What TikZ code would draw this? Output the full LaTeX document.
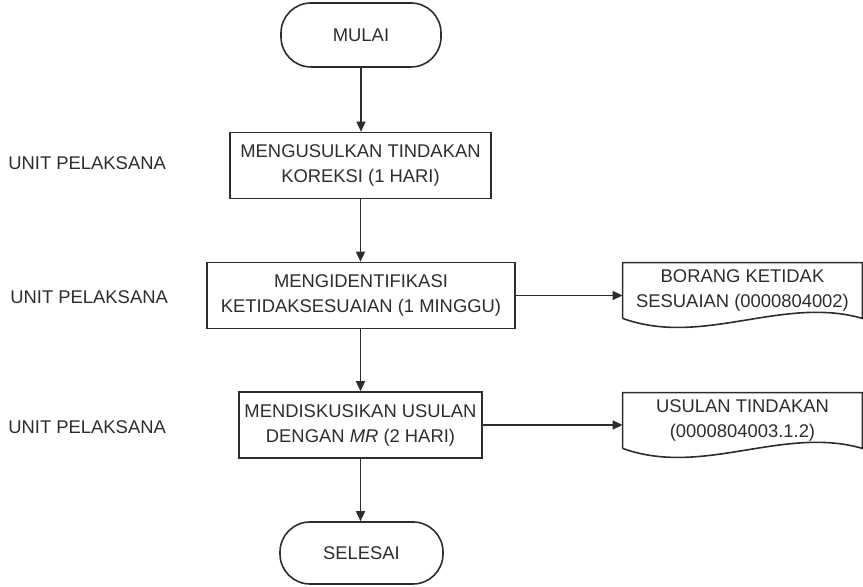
\documentclass[tikz,border=0pt]{standalone}
\usepackage{fontspec}
\setmainfont{Liberation Sans}
\usetikzlibrary{arrows.meta}
\usetikzlibrary{calc}
\definecolor{ink}{RGB}{45,45,45}

\begin{document}
\begin{tikzpicture}[x=0.5pt, y=0.5pt,
 every text node part/.style={align=center},
 every node/.style={font=\fontsize{9.2}{12.5}\selectfont, text=ink},
terminal/.style={rectangle, draw=ink, line width=0.8pt, inner sep=0pt, minimum width=80pt, minimum height=32pt, rounded corners=15pt},
process/.style={rectangle, draw=ink, line width=0.8pt, inner sep=0pt, minimum height=33pt},
form/.style={rectangle, inner sep=0pt, minimum width=119.5pt, minimum height=27.5pt},
unit/.style={anchor=west, inner sep=0pt},
arrow/.style={-{Triangle[length=5pt, width=4.5pt]}, line width=0.8pt, draw=ink}]

	\useasboundingbox (0,0) rectangle (863,587);

	\node[terminal] (mulai) at (361,552) {MULAI};
	\node[process, minimum width=130.5pt] (usul) at (360.5,421.5) {MENGUSULKAN TINDAKAN\\ KOREKSI (1 HARI)};
	\node[process, minimum width=154pt] (identifikasi) at (361,291.5) {MENGIDENTIFIKASI\\ KETIDAKSESUAIAN (1 MINGGU)};
	\node[process, minimum width=121.5pt] (diskusi) at (360.5,162) {MENDISKUSIKAN USULAN\\ DENGAN \textit{MR} (2 HARI)};
	\node[terminal, minimum width=81.5pt, minimum height=31pt] (selesai) at (361.5,34) {SELESAI};

	\node[form] (borangA) at (742.5,296.5) {BORANG KETIDAK\\ SESUAIAN (0000804002)};
	\node[form] (borangB) at (742.5,166.5) {USULAN TINDAKAN\\ (0000804003.1.2)};

	\node[unit] (unitA) at (8,424) {UNIT PELAKSANA};
	\node[unit] (unitB) at (10,290) {UNIT PELAKSANA};
	\node[unit] (unitC) at (8,160) {UNIT PELAKSANA};

	% document outlines
	\draw[ink, line width=0.8pt] (borangA.south west) -- (borangA.north west) -- (borangA.north east) -- (borangA.south east) .. controls +(-80,23) and +(80,-29) .. (borangA.south west);
	\draw[ink, line width=0.8pt] (borangB.south west) -- (borangB.north west) -- (borangB.north east) -- (borangB.south east) .. controls +(-80,23) and +(80,-29) .. (borangB.south west);

	\draw (mulai.south) edge [arrow] (mulai.south |- usul.north);
	\draw (usul.south) edge [arrow] (usul.south |- identifikasi.north);
	\draw (usul.south |- identifikasi.south) edge [arrow] (usul.south |- diskusi.north);
	\draw (usul.south |- diskusi.south) edge [arrow] (usul.south |- selesai.north);
	\draw (identifikasi.east) edge [arrow] (identifikasi.east -| borangA.west);
	\draw (diskusi.east) edge [arrow] (diskusi.east -| borangB.west);
\end{tikzpicture}
\end{document}
